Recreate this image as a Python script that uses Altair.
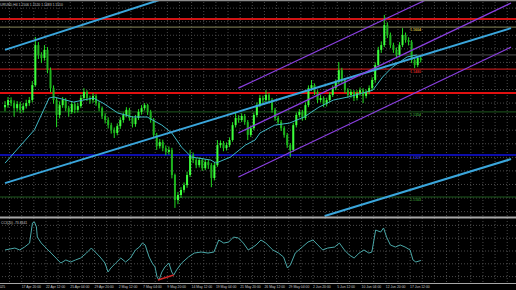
import altair as alt
import pandas as pd

# ---------------- data (EURUSD H4, one candle per two bars) ----------------
first_open = 1.1368
close = [1.1374, 1.1389, 1.1380, 1.1365, 1.1377, 1.1360, 1.1371, 1.1380, 1.1389, 1.1433,
         1.1551, 1.1522, 1.1513, 1.1537, 1.1477, 1.1424, 1.1389, 1.1345, 1.1374, 1.1389,
         1.1365, 1.1354, 1.1377, 1.1360, 1.1371, 1.1395, 1.1413, 1.1395, 1.1389, 1.1401,
         1.1380, 1.1365, 1.1342, 1.1330, 1.1315, 1.1301, 1.1292, 1.1312, 1.1330, 1.1345,
         1.1360, 1.1336, 1.1318, 1.1336, 1.1354, 1.1365, 1.1374, 1.1354, 1.1330, 1.1286,
         1.1253, 1.1265, 1.1247, 1.1236, 1.1242, 1.1168, 1.1094, 1.1109, 1.1124, 1.1138,
         1.1168, 1.1227, 1.1212, 1.1197, 1.1212, 1.1188, 1.1206, 1.1197, 1.1159, 1.1197,
         1.1256, 1.1262, 1.1247, 1.1256, 1.1271, 1.1315, 1.1336, 1.1330, 1.1342, 1.1324,
         1.1286, 1.1306, 1.1345, 1.1374, 1.1395, 1.1389, 1.1404, 1.1389, 1.1360, 1.1336,
         1.1324, 1.1306, 1.1286, 1.1256, 1.1242, 1.1315, 1.1345, 1.1354, 1.1336, 1.1374,
         1.1424, 1.1433, 1.1413, 1.1389, 1.1395, 1.1377, 1.1389, 1.1404, 1.1424, 1.1442,
         1.1477, 1.1448, 1.1418, 1.1404, 1.1413, 1.1395, 1.1410, 1.1418, 1.1401, 1.1413,
         1.1424, 1.1448, 1.1492, 1.1537, 1.1551, 1.1610, 1.1581, 1.1551, 1.1537, 1.1522,
         1.1551, 1.1581, 1.1566, 1.1560, 1.1507, 1.1492, 1.1513, 1.1507]
high = [1.1386, 1.1398, 1.1397, 1.1388, 1.1386, 1.1384, 1.1380, 1.1390, 1.1398, 1.1445,
        1.1575, 1.1560, 1.1530, 1.1551, 1.1545, 1.1485, 1.1432, 1.1396, 1.1385, 1.1398,
        1.1395, 1.1372, 1.1386, 1.1383, 1.1380, 1.1404, 1.1424, 1.1418, 1.1402, 1.1410,
        1.1406, 1.1386, 1.1370, 1.1350, 1.1338, 1.1322, 1.1308, 1.1320, 1.1338, 1.1352,
        1.1368, 1.1366, 1.1342, 1.1345, 1.1362, 1.1374, 1.1380, 1.1378, 1.1360, 1.1336,
        1.1292, 1.1274, 1.1272, 1.1255, 1.1252, 1.1248, 1.1172, 1.1118, 1.1132, 1.1146,
        1.1178, 1.1242, 1.1234, 1.1218, 1.1220, 1.1218, 1.1214, 1.1212, 1.1203, 1.1206,
        1.1271, 1.1270, 1.1268, 1.1264, 1.1279, 1.1324, 1.1351, 1.1344, 1.1350, 1.1348,
        1.1330, 1.1314, 1.1352, 1.1382, 1.1404, 1.1402, 1.1418, 1.1410, 1.1395, 1.1366,
        1.1342, 1.1330, 1.1312, 1.1292, 1.1262, 1.1322, 1.1352, 1.1362, 1.1360, 1.1382,
        1.1432, 1.1448, 1.1438, 1.1418, 1.1404, 1.1400, 1.1396, 1.1412, 1.1432, 1.1450,
        1.1501, 1.1484, 1.1454, 1.1424, 1.1420, 1.1418, 1.1418, 1.1426, 1.1424, 1.1420,
        1.1432, 1.1456, 1.1500, 1.1546, 1.1562, 1.1640, 1.1618, 1.1588, 1.1558, 1.1544,
        1.1560, 1.1601, 1.1588, 1.1574, 1.1566, 1.1512, 1.1520, 1.1520]
low = [1.1356, 1.1366, 1.1371, 1.1340, 1.1355, 1.1350, 1.1352, 1.1364, 1.1372, 1.1382,
       1.1428, 1.1510, 1.1498, 1.1505, 1.1468, 1.1412, 1.1378, 1.1309, 1.1335, 1.1366,
       1.1356, 1.1340, 1.1348, 1.1350, 1.1352, 1.1365, 1.1388, 1.1386, 1.1378, 1.1381,
       1.1372, 1.1356, 1.1333, 1.1320, 1.1305, 1.1290, 1.1277, 1.1285, 1.1304, 1.1322,
       1.1338, 1.1328, 1.1308, 1.1310, 1.1330, 1.1346, 1.1358, 1.1345, 1.1322, 1.1276,
       1.1242, 1.1246, 1.1238, 1.1226, 1.1228, 1.1158, 1.1071, 1.1082, 1.1100, 1.1116,
       1.1130, 1.1162, 1.1203, 1.1188, 1.1190, 1.1180, 1.1182, 1.1186, 1.1132, 1.1152,
       1.1192, 1.1248, 1.1238, 1.1240, 1.1250, 1.1266, 1.1308, 1.1322, 1.1324, 1.1316,
       1.1271, 1.1280, 1.1300, 1.1338, 1.1368, 1.1380, 1.1382, 1.1380, 1.1352, 1.1328,
       1.1315, 1.1298, 1.1278, 1.1248, 1.1221, 1.1236, 1.1308, 1.1338, 1.1328, 1.1330,
       1.1368, 1.1416, 1.1404, 1.1380, 1.1382, 1.1368, 1.1370, 1.1382, 1.1398, 1.1418,
       1.1436, 1.1440, 1.1410, 1.1396, 1.1396, 1.1386, 1.1388, 1.1402, 1.1380, 1.1394,
       1.1406, 1.1418, 1.1440, 1.1486, 1.1528, 1.1545, 1.1572, 1.1542, 1.1528, 1.1512,
       1.1515, 1.1545, 1.1558, 1.1550, 1.1498, 1.1483, 1.1486, 1.1500]

# moving average (read at points)
ma_bar = [0, 19.4, 29.1, 32.3, 45.2, 58.2, 64.6, 74.3, 84.0, 93.7, 103.4, 109.9, 116.4,
          122.8, 135.7, 139.0, 148.7, 158.4, 164.8, 168.1, 177.8, 187.5, 197.2, 206.9,
          216.5, 226.2, 235.9, 242.4, 248.9, 255.3, 265.0, 271.5]
ma_price = [1.1203, 1.1301, 1.1395, 1.1398, 1.1383, 1.1395, 1.1380, 1.1351, 1.1339, 1.1339,
            1.1315, 1.1292, 1.1250, 1.1221, 1.1212, 1.1203, 1.1221, 1.1256, 1.1271, 1.1292,
            1.1315, 1.1321, 1.1339, 1.1368, 1.1389, 1.1398, 1.1410, 1.1418, 1.1457, 1.1486,
            1.1516, 1.1522]

# CCI sub-window
cci_bar = [0, 6.5, 9.7, 12.9, 16.2, 18.1, 19.4, 20.7, 21.3, 23.9, 27.1, 30.4, 33.6, 36.8,
           40.1, 43.3, 46.5, 49.8, 53.7, 56.9, 59.5, 62.7, 65.9, 67.9, 69.8, 73.0, 76.3,
           79.5, 82.7, 86.0, 88.6, 90.5, 92.4, 95.0, 97.0, 98.9, 100.2, 101.5, 103.4, 105.4,
           108.0, 109.9, 111.2, 113.1, 116.4, 120.9, 124.8, 129.3, 133.8, 137.7, 140.9,
           144.2, 147.4, 150.6, 153.8, 157.1, 160.3, 163.5, 165.5, 168.7, 171.9, 176.5,
           180.3, 183.6, 186.2, 188.1, 191.3, 195.9, 199.7, 203.0, 206.2, 209.4, 212.7,
           217.2, 220.4, 223.7, 226.9, 230.1, 233.4, 236.6, 239.8, 241.8, 244.3, 247.6,
           249.5, 251.5, 254.0, 257.3, 260.5, 263.7, 267.0, 268.9, 270.8, 274.1]
cci_val = [8, 23, 8, 31, 62, 219, 227, 188, 109, 62, 23, -16, -55, -94, -70, -86, -70, -55,
           -16, 23, -8, -47, -94, -164, -133, -94, -55, -86, -55, 8, 31, 62, 47, -47, -94,
           -125, -203, -227, -164, -125, -94, -164, -188, -148, -94, -47, -16, -8, -16, -8,
           86, 62, 70, 109, 102, 62, 8, 31, 47, 86, 62, 8, -16, -47, -133, -109, -16, 31,
           70, 86, 47, 8, 23, 31, 62, 8, -31, -55, -16, 8, -16, -8, 164, 148, 180, 109, 47,
           31, 47, 31, 8, -70, -86, -74]
div_bar = [100.8, 111.2]
div_val = [-227, -188]

# trend lines / channels: (bar, price) end points
cyan_lines = {
    "t1": ([0, 110], [1.1537, 1.1696]),
    "t2": ([0, 333.5], [1.1144, 1.1601]),
    "t3": ([210.7, 333.5], [1.1047, 1.1215]),
}
purple_lines = {
    "p1": ([153.8, 277.3], [1.1424, 1.1684]),
    "p2": ([153.8, 333.5], [1.1292, 1.1675]),
    "p3": ([153.8, 333.5], [1.1162, 1.1545]),
}

# horizontal levels
level_prices = [1.1628, 1.1604, 1.1522, 1.1480, 1.1410, 1.1354, 1.1227, 1.1103]
level_text = ["", "1.1604", "", "1.1480", "", "1.1354", "1.1227", "1.1103"]

# time axis
label_bars = [-12, 11, 27, 43, 59, 75, 91, 107, 123, 139, 155, 171, 187, 203, 219, 235, 251, 267]
label_text = ["16 Apr 2025", "17 Apr 20:00", "22 Apr 12:00", "25 Apr 04:00", "29 Apr 20:00",
              "2 May 12:00", "7 May 04:00", "9 May 20:00", "14 May 12:00", "19 May 04:00",
              "21 May 20:00", "26 May 12:00", "29 May 04:00", "2 Jun 20:00", "5 Jun 12:00",
              "10 Jun 04:00", "12 Jun 20:00", "17 Jun 12:00"]

info_text = "EURUSD,H4  1.1506 1.1520 1.1483 1.1510"
cci_text = "CCI(20) -73.8441"

# ---------------- styles ----------------
W, H = 516, 290
FONT = "Liberation Sans"
FS = 3.4
xs = alt.Scale(domain=[0, 333.5], nice=False, zero=False)
ys = alt.Scale(domain=[1.1047, 1.1684], range=[216, 0], nice=False, zero=False)
cs = alt.Scale(domain=[-250, 250], range=[283, 219], nice=False, zero=False)
GRID = "#4a4a4a"

opens = [first_open] + close[:-1]
candles = pd.DataFrame({
    "bar": [2 * i for i in range(len(close))],
    "open": opens, "high": high, "low": low, "close": close,
})
candles["dir"] = ["up" if c >= o else "down" for o, c in zip(opens, close)]

X = alt.X("bar:Q", scale=xs, axis=None)

layers = []

# grid: vertical
vgrid = pd.DataFrame({"bar": list(range(3, 334, 8))})
layers.append(alt.Chart(vgrid).mark_rule(color=GRID, strokeWidth=1, strokeDash=[1, 2]).encode(
    x=X, y=alt.value(2), y2=alt.value(283)))
# grid: horizontal main
hgrid = pd.DataFrame({"p": [1.1060 + 0.0040 * i for i in range(16)]})
layers.append(alt.Chart(hgrid).mark_rule(color=GRID, strokeWidth=1, strokeDash=[1, 2]).encode(
    y=alt.Y("p:Q", scale=ys, axis=None)))
# grid: horizontal CCI
cgrid = pd.DataFrame({"v": [200, 100, 0, -100, -200]})
layers.append(alt.Chart(cgrid).mark_rule(color=GRID, strokeWidth=1, strokeDash=[1, 2]).encode(
    y=alt.Y("v:Q", scale=cs, axis=None)))

# horizontal level lines
level_styles = [("#d01414", 2), ("#6e6e48", 1.3), ("#505050", 1), ("#b41818", 1.3),
                ("#e01010", 2), ("#1e5a1e", 1), ("#0c0ca8", 2), ("#1e5a1e", 1)]
for price, (col, w) in zip(level_prices, level_styles):
    layers.append(alt.Chart(pd.DataFrame({"p": [price]})).mark_rule(color=col, strokeWidth=w).encode(
        y=alt.Y("p:Q", scale=ys, axis=None)))

text_colors = ["#d01414", "#c8b040", "#505050", "#c82020", "#e01010", "#2e8a2e", "#2a2ad0", "#2e8a2e"]
for price, txt, col in zip(level_prices, level_text, text_colors):
    if txt:
        layers.append(alt.Chart(pd.DataFrame({"p": [price], "b": [267], "t": [txt]})).mark_text(
            align="left", baseline="top", dy=1, fontSize=3.6, font=FONT, color=col, fontWeight="bold").encode(
            x=alt.X("b:Q", scale=xs, axis=None), y=alt.Y("p:Q", scale=ys, axis=None), text="t:N"))

# candles
layers.append(alt.Chart(candles).mark_rule(color="#22dd22", strokeWidth=1).encode(
    x=X, y=alt.Y("low:Q", scale=ys, axis=None), y2="high:Q"))
layers.append(alt.Chart(candles).mark_bar(size=2).encode(
    x=X, y=alt.Y("open:Q", scale=ys, axis=None), y2="close:Q",
    color=alt.Color("dir:N", scale=alt.Scale(domain=["up", "down"], range=["#3cff3c", "#1eb41e"]), legend=None)))

# moving average
ma = pd.DataFrame({"bar": ma_bar, "p": ma_price})
layers.append(alt.Chart(ma).mark_line(color="#3fb6c4", strokeWidth=1).encode(
    x=X, y=alt.Y("p:Q", scale=ys, axis=None)))

# trend lines
rows = []
for k, (bs, ps) in cyan_lines.items():
    for b, p in zip(bs, ps):
        rows.append({"id": k, "bar": b, "p": p})
layers.append(alt.Chart(pd.DataFrame(rows)).mark_line(color="#3aa6dc", strokeWidth=2).encode(
    x=X, y=alt.Y("p:Q", scale=ys, axis=None), detail="id:N"))
rows = []
for k, (bs, ps) in purple_lines.items():
    for b, p in zip(bs, ps):
        rows.append({"id": k, "bar": b, "p": p})
layers.append(alt.Chart(pd.DataFrame(rows)).mark_line(color="#8a3fe0", strokeWidth=1.2).encode(
    x=X, y=alt.Y("p:Q", scale=ys, axis=None), detail="id:N"))

# CCI
cci = pd.DataFrame({"bar": cci_bar, "v": cci_val})
layers.append(alt.Chart(cci).mark_line(color="#4aa8a8", strokeWidth=1).encode(
    x=X, y=alt.Y("v:Q", scale=cs, axis=None)))
div = pd.DataFrame({"bar": div_bar, "v": div_val})
layers.append(alt.Chart(div).mark_line(color="#d02828", strokeWidth=1.5).encode(
    x=X, y=alt.Y("v:Q", scale=cs, axis=None)))

# frame / separator lines
for yv, col, w in [(0.5, "#8a8a8a", 1.5), (217.5, "#a8a8a8", 2), (283.5, "#a8a8a8", 1)]:
    layers.append(alt.Chart(pd.DataFrame({"a": [0]})).mark_rule(color=col, strokeWidth=w).encode(
        y=alt.value(yv)))

# texts
layers.append(alt.Chart(pd.DataFrame({"t": [info_text]})).mark_text(
    align="left", baseline="middle", fontSize=FS, font=FONT, color="#c8c8c8").encode(
    x=alt.value(-2), y=alt.value(4.5), text="t:N"))
layers.append(alt.Chart(pd.DataFrame({"t": [cci_text]})).mark_text(
    align="left", baseline="middle", fontSize=FS, font=FONT, color="#c8c8c8").encode(
    x=alt.value(1), y=alt.value(222.5), text="t:N"))
labels = pd.DataFrame({"bar": label_bars, "t": label_text})
layers.append(alt.Chart(labels).mark_text(
    align="left", baseline="middle", fontSize=FS, font=FONT, color="#c8c8c8").encode(
    x=X, y=alt.value(287), text="t:N"))

chart = alt.layer(*layers).resolve_scale(y="independent", color="independent").properties(
    width=W, height=H, background="#000000", padding=0,
    autosize=alt.AutoSizeParams(type="none"),
).configure_view(stroke=None)

chart.save("out.html", embed_options={"renderer": "svg", "actions": False})
